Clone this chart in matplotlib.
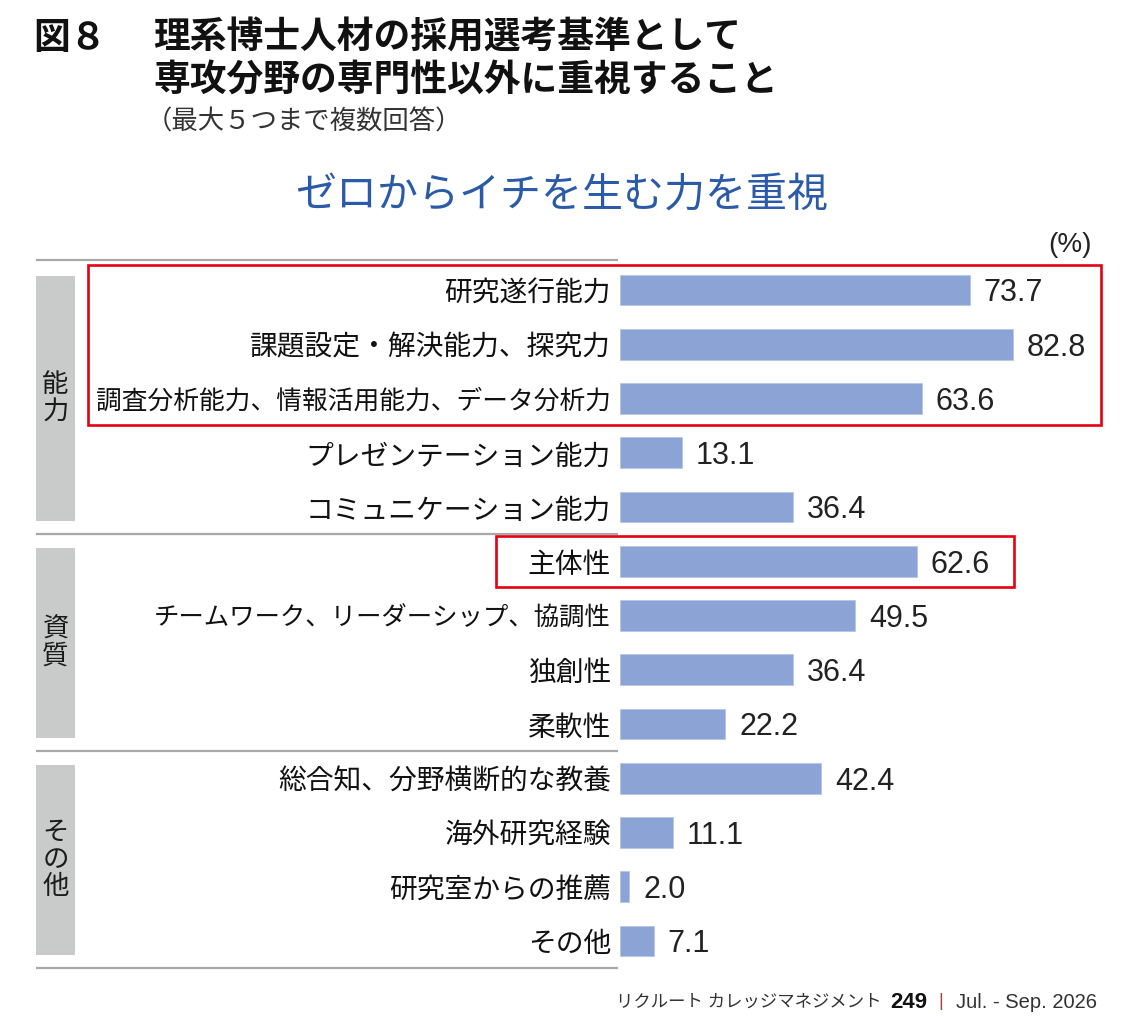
import matplotlib
matplotlib.use("Agg")
import matplotlib.pyplot as plt
from matplotlib.patches import Rectangle
from matplotlib.transforms import blended_transform_factory

plt.rcParams['font.family'] = ['Noto Sans CJK JP', 'DejaVu Sans']

# data
categories = [
    "研究遂行能力",
    "課題設定・解決能力、探究力",
    "調査分析能力、情報活用能力、データ分析力",
    "プレゼンテーション能力",
    "コミュニケーション能力",
    "主体性",
    "チームワーク、リーダーシップ、協調性",
    "独創性",
    "柔軟性",
    "総合知、分野横断的な教養",
    "海外研究経験",
    "研究室からの推薦",
    "その他",
]
values = [73.7, 82.8, 63.6, 13.1, 36.4, 62.6, 49.5, 36.4, 22.2, 42.4, 11.1, 2.0, 7.1]
groups = ["能力", "資質", "その他"]
group_sizes = [5, 4, 4]
highlight_rows = [(0, 2), (5, 5)]

BAR = "#8ba4d5"
RED = "#e60012"
GRAY_BOX = "#c9caca"
SEP = "#a8a8a8"

W, H = 1123, 1027
fig = plt.figure(figsize=(W / 100, H / 100), dpi=100)


def fx(px):
    return px / W


def fy(py):
    return 1 - py / H


# bar axes placed in pixel terms
row_px = 54.25
x_px_per_unit = 4.746
top_px = 290 - 0.6 * row_px
ax_h = 13.2 * row_px
ax = fig.add_axes([fx(620), fy(top_px + ax_h), 100 * x_px_per_unit / W, ax_h / H])
ax.set_xlim(0, 100)
ax.set_ylim(12.6, -0.6)
ypos = list(range(len(categories)))
ax.barh(ypos, values, height=0.57, color=BAR, edgecolor="#b7c6e6", linewidth=0.6)
ax.set_yticks(ypos, categories, fontsize=20, color="#111111")
# the two longest labels are set a bit tighter, like the proportional kana of the original
ax.get_yticklabels()[2].set_fontsize(18.5)
ax.get_yticklabels()[6].set_fontsize(18.3)
ax.tick_params(axis="y", length=0, pad=6.5)
ax.tick_params(axis="x", bottom=False, labelbottom=False)
for s in ax.spines.values():
    s.set_visible(False)

for y, v in zip(ypos, values):
    ax.annotate(f"{v:.1f}", (v, y), xytext=(10, -2.5), textcoords="offset points",
                ha="left", va="center", fontsize=22, family="Liberation Sans",
                color="#222222")

tr = blended_transform_factory(fig.transFigure, ax.transData)

# group separators, gray boxes and vertical labels
start = 0
seps = [-0.55]
for g, n in zip(groups, group_sizes):
    end = start + n - 1
    seps.append(end + 0.5)
    top = start - 0.25
    bot = end + 0.25
    ax.add_patch(Rectangle((fx(36), top), fx(75) - fx(36), bot - top, transform=tr,
                           facecolor=GRAY_BOX, edgecolor="none", clip_on=False))
    ax.text(fx(55.5), (top + bot) / 2, "\n".join(g), transform=tr, ha="center",
            va="center", fontsize=19, linespacing=1.0, color="#1a1a1a", zorder=5)
    start += n
for s in seps:
    ax.plot([fx(36), fx(618)], [s, s], transform=tr, color=SEP, lw=1.6,
            clip_on=False, solid_capstyle="butt")

# red highlight boxes
for (a, b), (x0, x1) in zip(highlight_rows, [(88, 1101), (496, 1014)]):
    ax.add_patch(Rectangle((fx(x0), a - 0.47), fx(x1) - fx(x0), b - a + 0.95,
                           transform=tr, facecolor="none", edgecolor=RED, lw=1.9,
                           clip_on=False, zorder=4))

# titles
fig.text(fx(33), fy(38), "図８", fontsize=26.5, fontweight="bold", va="center",
         ha="left", color="#111111")
fig.text(fx(153), fy(38), "理系博士人材の採用選考基準として", fontsize=26.5,
         fontweight="bold", va="center", ha="left", color="#111111")
fig.text(fx(153), fy(80), "専攻分野の専門性以外に重視すること", fontsize=26.5,
         fontweight="bold", va="center", ha="left", color="#111111")
fig.text(fx(146), fy(122), "（最大５つまで複数回答）", fontsize=19, va="center",
         ha="left", color="#333333")
fig.text(fx(562), fy(196), "ゼロからイチを生む力を重視", fontsize=29.5, va="center",
         ha="center", color="#2b5ba8")
fig.text(fx(1092), fy(245), "(%)", fontsize=20, va="center", ha="right",
         family="Liberation Sans", color="#222222")

# footer
foot = ['Liberation Sans', 'Noto Sans CJK JP']
fig.text(fx(1097), fy(1002), "Jul. - Sep. 2026", fontsize=14.5, va="center", ha="right",
         family=foot, color="#333333")
fig.text(fx(941), fy(1001), "|", fontsize=13, va="center", ha="center",
         family=foot, color="#9a4a3a")
fig.text(fx(927), fy(1002), "249", fontsize=16, fontweight="bold", va="center",
         ha="right", family=foot, color="#111111")
fig.text(fx(882), fy(1002), "リクルート カレッジマネジメント", fontsize=12.5, va="center",
         ha="right", family=foot, color="#333333")

fig.savefig("out.png", dpi=100)
